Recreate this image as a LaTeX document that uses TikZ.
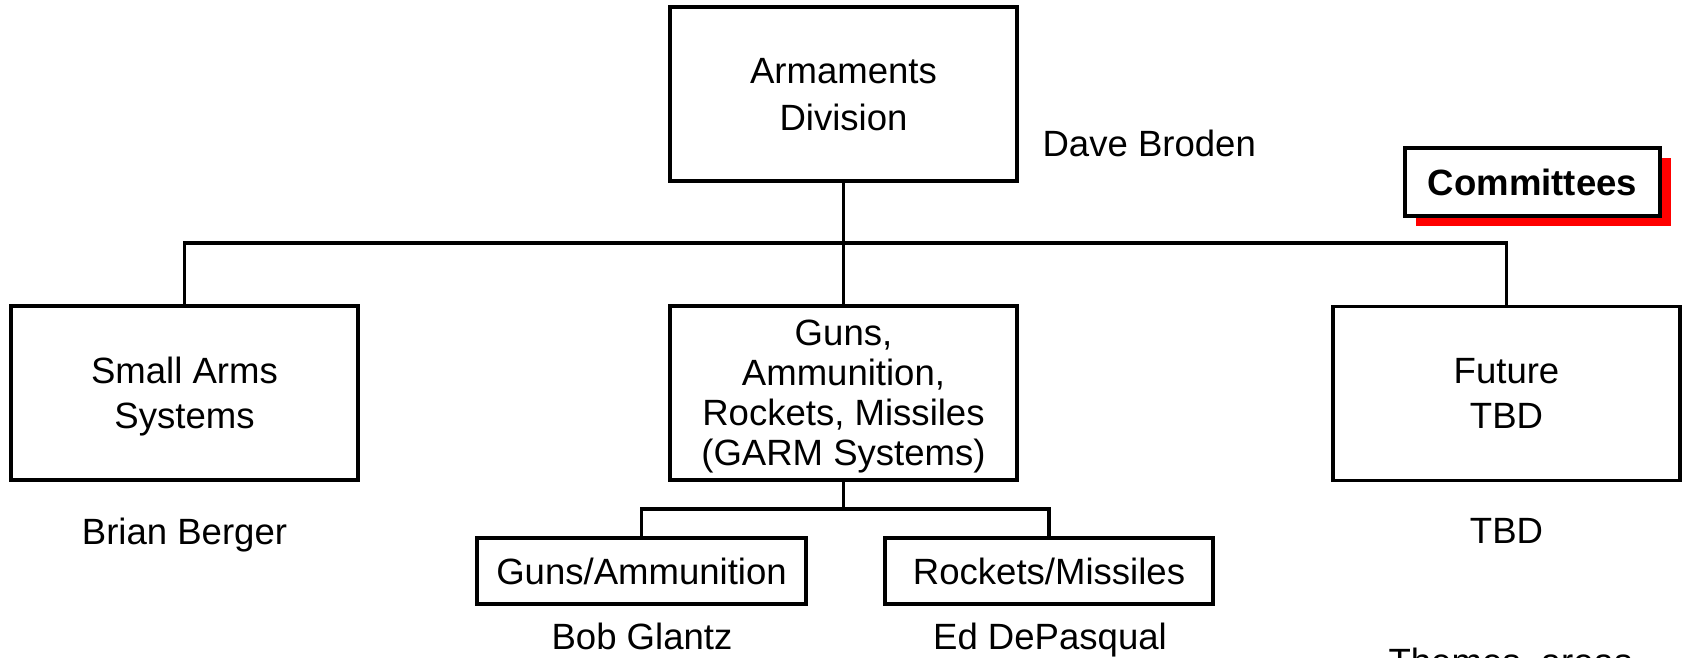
\documentclass[tikz,border=0pt]{standalone}
\usepackage{fontspec}
\setmainfont{Liberation Sans}
\usetikzlibrary{shadows}

\tikzset{
  orgbox/.style={draw, line width=0.9pt, minimum width=34.7mm, minimum height=17.4mm,
    inner sep=0pt, align=center, text depth=0pt, font=\fontsize{10.4}{12.8}\selectfont},
  subbox/.style={draw, line width=0.9pt, minimum width=32.9mm, minimum height=6.6mm,
    inner sep=0pt, text depth=0pt, font=\fontsize{10.4}{12.8}\selectfont},
  headname/.style={inner sep=0pt, font=\fontsize{10.4}{12.8}\selectfont},
  tagbox/.style={draw, line width=1.1pt, fill=white, minimum width=25.5mm, minimum height=6.8mm,
    inner sep=0pt, font=\fontsize{10.4}{12.8}\selectfont\bfseries,
    drop shadow={shadow xshift=1.1mm, shadow yshift=-1.0mm, fill=red, opacity=1}}
}

\begin{document}
\begin{tikzpicture}[x=0.1mm, y=-0.1mm, line width=0.9pt]
  \useasboundingbox (0,0) rectangle (1683,658);
  \clip (0,0) rectangle (1683,658);
  \path
    (843.5,94) node[orgbox, font=\fontsize{10.4}{13.4}\selectfont] (div){Armaments\\Division}
    (184.5,393) node[orgbox] (small){Small Arms\\Systems}
    (843.5,393) node[orgbox, font=\fontsize{10.4}{11.4}\selectfont] (garm){Guns,\\Ammunition,\\Rockets, Missiles\\(GARM Systems)}
    (1506.5,393.5) node[orgbox] (future){Future\\TBD}
    (641.5,571) node[subbox] (gunsammo){Guns/Ammunition}
    (1049,571) node[subbox, minimum width=32.8mm] (rockmiss){Rockets/Missiles}
    (1532.5,182) node[tagbox] (committees){Committees};
  % names under the boxes
  \path
    (1041,157) node[headname, anchor=base west] (divhead){Dave Broden}
    (184.5,545) node[headname, anchor=base] (smallhead){Brian Berger}
    (1506.5,544) node[headname, anchor=base] (futurehead){TBD}
    (642,650) node[headname, anchor=base] (gunshead){Bob Glantz}
    (1050,650) node[headname, anchor=base] (rockhead){Ed DePasqual}
    (1387,675) node[headname, anchor=base west] (themes){Themes, areas};
  \coordinate (bus) at (843.5,243);
  \coordinate (subbus) at (843.5,509);
  \begin{scope}[-]
    \draw (div) -- (garm);
    \draw (small.north) |- (bus) -| (future.north);
    \draw (garm) -- (subbus);
    \draw (gunsammo.north) |- (subbus) -| (rockmiss.north);
  \end{scope}
\end{tikzpicture}
\end{document}
